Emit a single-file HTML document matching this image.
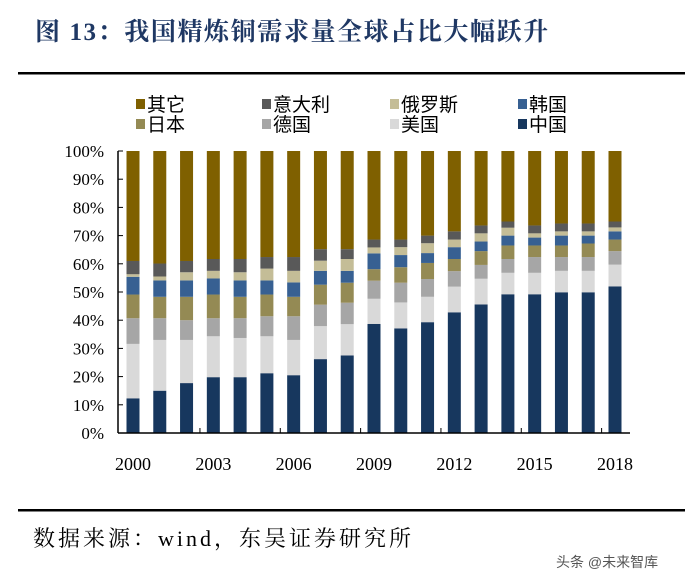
<!DOCTYPE html>
<html><head><meta charset="utf-8"><style>
body{margin:0;background:#fff;width:700px;height:581px;overflow:hidden}
svg{display:block}
.serif{font-family:"Liberation Serif","Noto Serif CJK SC",serif}
.sans{font-family:"Liberation Sans","Noto Sans CJK SC",sans-serif}
</style></head><body>
<svg id="chart" width="700" height="581">
<text x="35" y="40" class="serif" font-size="25" font-weight="bold" letter-spacing="1.6" fill="#1f3864">图 13：我国精炼铜需求量全球占比大幅跃升</text>
<rect x="18" y="72" width="667" height="2.5" fill="#000"/>
<g id="legend"></g>
<g id="bars"></g>
<g id="axes"></g>
<rect x="18" y="509" width="667" height="2.5" fill="#000"/>
<text x="33" y="546" class="serif" font-size="22" letter-spacing="3" fill="#000">数据来源：wind，东吴证券研究所</text>
<text x="556" y="567" class="sans" font-size="14" fill="#555">头条 @未来智库</text>
</svg>
<script>
const years=["2000","2001","2002","2003","2004","2005","2006","2007","2008","2009","2010","2011","2012","2013","2014","2015","2016","2017","2018"];
const yTicks=["0%","10%","20%","30%","40%","50%","60%","70%","80%","90%","100%"];
const xLabelYears=["2000","2003","2006","2009","2012","2015","2018"];
const china=[12.3,15,17.7,19.8,19.8,21.2,20.5,26.2,27.5,38.7,37.1,39.3,42.8,45.6,49.2,49.2,49.9,49.9,52];
const usa=[19.3,18,15.3,14.5,13.9,13.1,12.5,11.7,11.1,8.9,9.2,9,9.1,9.1,7.6,7.6,7.6,7.6,7.7];
const germany=[9.1,7.7,7,6.4,7,7.1,8.4,7.6,7.6,6.4,7,6.3,5.5,4.9,4.9,5.6,4.9,4.9,4.8];
const japan=[8.4,7.6,8.3,8.4,7.6,7.7,6.9,7.1,7.1,4.1,5.5,5.7,4.3,4.9,4.8,4.1,4.1,4.8,4.1];
const korea=[6.3,5.8,5.8,5.7,5.8,5,5.1,4.9,4.2,5.6,4.3,3.5,4.2,3.4,3.5,2.8,3.5,2.8,2.9];
const russia=[0.9,1.4,2.9,2.7,2.9,4.2,4.1,3.6,4.2,2.1,2.8,3.5,2.7,2.9,2.8,1.5,1.5,1.5,1.4];
const italy=[4.7,4.6,4,4.2,4.7,4.1,4.9,4.1,3.5,2.8,2.7,2.7,2.9,2.8,2.2,2.8,2.8,2.8,2.1];
const other=years.map((_,i)=>100-china[i]-usa[i]-germany[i]-japan[i]-korea[i]-russia[i]-italy[i]);

const NS="http://www.w3.org/2000/svg";
const series=[
 {name:"中国",key:"china",v:china,c:"#17375e"},
 {name:"美国",key:"usa",v:usa,c:"#d9d9d9"},
 {name:"德国",key:"germany",v:germany,c:"#a6a6a6"},
 {name:"日本",key:"japan",v:japan,c:"#948a54"},
 {name:"韩国",key:"korea",v:korea,c:"#376092"},
 {name:"俄罗斯",key:"russia",v:russia,c:"#c4bd97"},
 {name:"意大利",key:"italy",v:italy,c:"#595959"},
 {name:"其它",key:"other",v:other,c:"#7f6000"}
];
const x0=118,x1=630,yTop=151,yBot=433;
const step=(x1-x0-30)/(years.length-1);
const bw=13;
const xc=i=>x0+15+i*step;
const yv=p=>yBot-(yBot-yTop)*p/100;
function mk(t,a,p){const e=document.createElementNS(NS,t);for(const k in a)e.setAttribute(k,a[k]);p.appendChild(e);return e;}
const gb=document.getElementById('bars');
years.forEach((yr,i)=>{
 let cum=0;
 series.forEach(s=>{
  const v=s.v[i];
  const r=mk('rect',{x:xc(i)-bw/2,y:yv(cum+v),width:bw,height:yv(cum)-yv(cum+v),fill:s.c},gb);
  
  
  cum+=v;
 });
});
const ga=document.getElementById('axes');
let l=mk('line',{x1:x0,y1:yTop,x2:x0,y2:yBot,stroke:'#000','stroke-width':1.5},ga);


l=mk('line',{x1:x0,y1:yBot,x2:x1,y2:yBot,stroke:'#000','stroke-width':1.5},ga);


yTicks.forEach((t,k)=>{
 const y=yv(k*10);
 mk('line',{x1:x0,y1:y,x2:x0+5,y2:y,stroke:'#000','stroke-width':1},ga);
 const tx=mk('text',{x:x0-14,y:y+6,'text-anchor':'end','font-size':17,class:'serif'},ga);
 tx.textContent=t;
 
 
});
for(let i=3;i<years.length;i+=3){
 const x=(xc(i-1)+xc(i))/2;
 mk('line',{x1:x,y1:yBot,x2:x,y2:yBot-5,stroke:'#000','stroke-width':1},ga);
}
xLabelYears.forEach(yr=>{
 const i=years.indexOf(yr);
 const tx=mk('text',{x:xc(i),y:470,'text-anchor':'middle','font-size':18,class:'serif'},ga);
 tx.textContent=yr;
 
 
});
const gl=document.getElementById('legend');
const leg=[["其它","#7f6000",136,104],["意大利","#595959",262,104],["俄罗斯","#c4bd97",390,104],["韩国","#376092",518,104],
["日本","#948a54",136,124],["德国","#a6a6a6",262,124],["美国","#d9d9d9",390,124],["中国","#17375e",518,124]];
leg.forEach(e=>{
 const g=mk('g',{},gl);
 
 
 mk('rect',{x:e[2],y:e[3]-5,width:9,height:10,fill:e[1]},g);
 const tx=mk('text',{x:e[2]+11,y:e[3]+7,'font-size':19,class:'sans'},g);
 tx.textContent=e[0];
});
</script>
</body></html>
